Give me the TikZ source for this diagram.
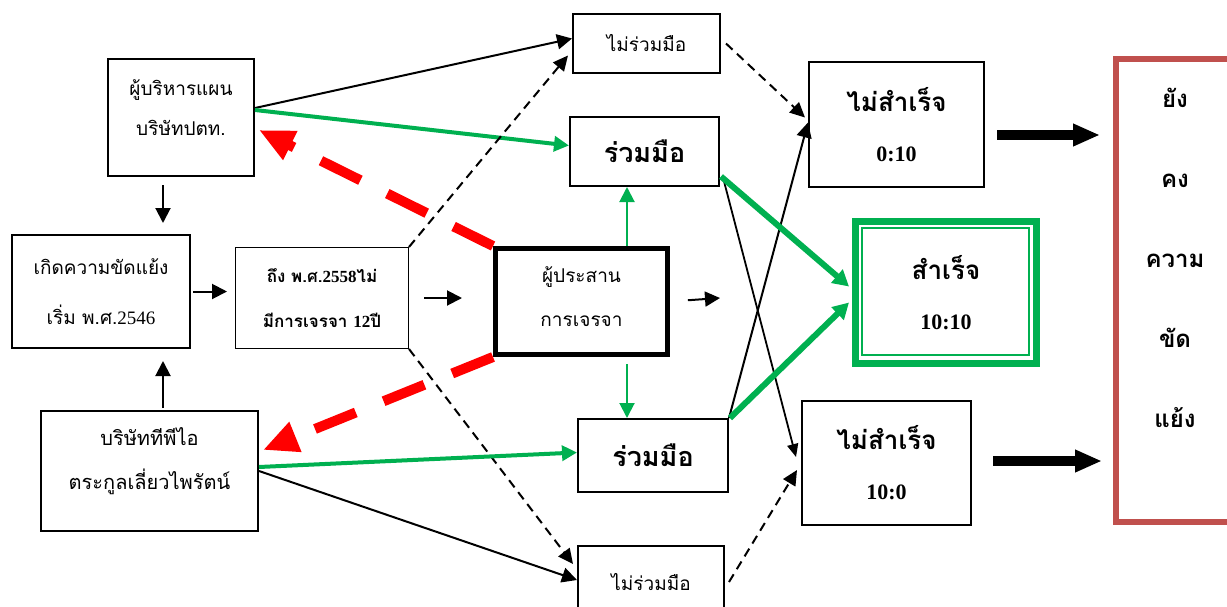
\documentclass[tikz,border=0pt]{standalone}
\usepackage{fontspec}
\setmainfont[Script=Thai]{Loma}
\newfontfamily\num{Liberation Serif}
\usetikzlibrary{arrows.meta}
\definecolor{okgreen}{HTML}{00B050}
\definecolor{endred}{HTML}{C0504D}

\begin{document}
\begin{tikzpicture}[x=1pt,y=-1pt,
    box/.style={draw,line width=2pt,align=center,inner sep=0pt,font=\fontsize{19}{40}\selectfont},
    bigbox/.style={box,font=\bfseries\fontsize{27}{40}\selectfont},
    endbox/.style={box,font=\bfseries\fontsize{26}{50}\selectfont},
    arr/.style={line width=2pt,-{Triangle[length=15pt,width=15pt]}},
    thinarr/.style={line width=1.8pt,-{Triangle[length=13pt,width=11pt]}},
    dasharr/.style={line width=2pt,dash pattern=on 9pt off 6pt,-{Triangle[length=15pt,width=14pt]}},
    garr/.style={okgreen,line width=4pt,-{Triangle[length=15pt,width=15pt]}},
    gthin/.style={okgreen,line width=2pt,-{Triangle[length=15pt,width=15pt]}},
    gthick/.style={okgreen,line width=6pt,-{Triangle[length=16pt,width=17pt]}},
    reddash/.style={red,line width=10pt,dash pattern=on 44pt off 30pt,-{Triangle[length=35pt,width=30pt]}},
    block/.style={line width=10pt,-{Triangle[length=27pt,width=21pt]}}]
  \useasboundingbox (0,0) rectangle (1227,606);
  % left column
  \node[box,minimum width=146pt,minimum height=117pt,text depth=20pt] (ptt) at (181,117.5) {ผู้บริหารแผน\\บริษัทปตท.};
  \node[box,minimum width=178pt,minimum height=113pt,font=\fontsize{19}{50}\selectfont] (start) at (101,291.5) {เกิดความขัดแย้ง\\เริ่ม พ.ศ.{\num 2546}};
  \node[box,minimum width=217pt,minimum height=120pt,text depth=24pt,font=\fontsize{20}{44}\selectfont] (tpi) at (149.5,471) {บริษัททีพีไอ\\ตระกูลเลี่ยวไพรัตน์};
  \node[box,line width=1pt,minimum width=173pt,minimum height=101pt,font=\bfseries\fontsize{17}{45}\selectfont] (stall) at (322,298) {ถึง พ.ศ.{\num 2558}ไม่\\มีการเจรจา {\num 12}ปี};
  \node[box,line width=5pt,minimum width=172pt,minimum height=106pt,text depth=10pt,font=\fontsize{19}{44}\selectfont] (med) at (581.5,301.5) {ผู้ประสาน\\การเจรจา};
  % middle column
  \node[box,minimum width=147pt,minimum height=59pt] (no1) at (646.5,43.5) {ไม่ร่วมมือ};
  \node[bigbox,minimum width=149pt,minimum height=69pt] (yes1) at (644.5,151.5) {ร่วมมือ};
  \node[bigbox,minimum width=150pt,minimum height=73pt] (yes2) at (653,455.5) {ร่วมมือ};
  \node[box,minimum width=146pt,minimum height=72pt] (no2) at (651,582) {ไม่ร่วมมือ};
  % results
  \node[endbox,minimum width=175pt,minimum height=125pt] (fail1) at (896.5,124.5) {ไม่สำเร็จ\\{\num\fontsize{22}{50}\selectfont 0:10}};
  \node[endbox,draw=okgreen,line width=7pt,minimum width=181pt,minimum height=142pt] (win) at (946,292.5) {สำเร็จ\\{\num\fontsize{22}{50}\selectfont 10:10}};
  \node[draw=okgreen,line width=1.7pt,minimum width=167pt,minimum height=127pt] (wininner) at (945.5,291.5) {};
  \node[endbox,minimum width=169pt,minimum height=124pt] (fail2) at (886.5,463) {ไม่สำเร็จ\\{\num\fontsize{22}{50}\selectfont 10:0}};
  \node[draw=endred,line width=6pt,minimum width=121pt,minimum height=463pt] (still) at (1176.5,290.5) {};
  \node[align=center,font=\bfseries\fontsize{24}{80}\selectfont] (stilltext) at (1175,258) {ยัง\\คง\\ความ\\ขัด\\แย้ง};
  \coordinate (m1) at (720,298);
  \coordinate (f1) at (997,135);
  \coordinate (f2) at (1100,135);
  \coordinate (f3) at (993,461);
  \coordinate (f4) at (1102,461);
  % connectors
  \draw[arr] ([shift={(-18,8)}]ptt.south) -- ([shift={(62,-11)}]start.north);
  \draw[arr] ([shift={(13.5,-2)}]tpi.north) -- ([shift={(62,12)}]start.south);
  \draw[arr,shorten <=2pt,shorten >=8pt] (start.east) -- (start.east -| stall.west);
  \draw[arr,shorten <=15pt,shorten >=31pt] (stall.east) -- (stall.east -| med.west);
  \draw[arr,shorten <=18pt] (med.east) -- (m1);
  \draw[arr] ([shift={(0,-9.5)}]ptt.east) -- ([shift={(0,-5)}]no1.west);
  \draw[garr] ([shift={(0,-7.5)}]ptt.east) -- ([shift={(0,-6)}]yes1.west);
  \draw[dasharr] (stall.north east) -- ([shift={(-4,12)}]no1.west);
  \draw[dasharr] (stall.south east) -- ([shift={(-4,-18)}]no2.west);
  \draw[arr] ([shift={(0,0)}]tpi.east) -- ([shift={(0,-2)}]no2.west);
  \draw[garr] ([shift={(0,-4)}]tpi.east) -- ([shift={(0,-3)}]yes2.west);
  \draw[reddash] (med.north west) -- ([shift={(4,12.5)}]ptt.east);
  \draw[reddash] (med.south west) -- ([shift={(4,-21)}]tpi.east);
  \draw[gthin] ([shift={(45.5,0)}]med.north) -- ([shift={(-17.5,0)}]yes1.south);
  \draw[gthin] ([shift={(45.5,7)}]med.south) -- ([shift={(-26,0)}]yes2.north);
  \draw[dasharr] ([shift={(5,0)}]no1.east) -- ([shift={(-3,-7)}]fail1.west);
  \draw[arr] (yes2.north east) -- ([shift={(0,-2)}]fail1.west);
  \draw[thinarr] ([shift={(3,26)}]yes1.east) -- ([shift={(-5,-6)}]fail2.west);
  \draw[gthick] ([shift={(1,25)}]yes1.east) -- ([shift={(-3,-6)}]win.west);
  \draw[gthick] ([shift={(1,0)}]yes2.north east) -- ([shift={(-3,10)}]win.west);
  \draw[dasharr] ([shift={(4,0)}]no2.east) -- ([shift={(-4,7)}]fail2.west);
  \draw[block] (f1) -- (f2);
  \draw[block] (f3) -- (f4);
\end{tikzpicture}
\end{document}
